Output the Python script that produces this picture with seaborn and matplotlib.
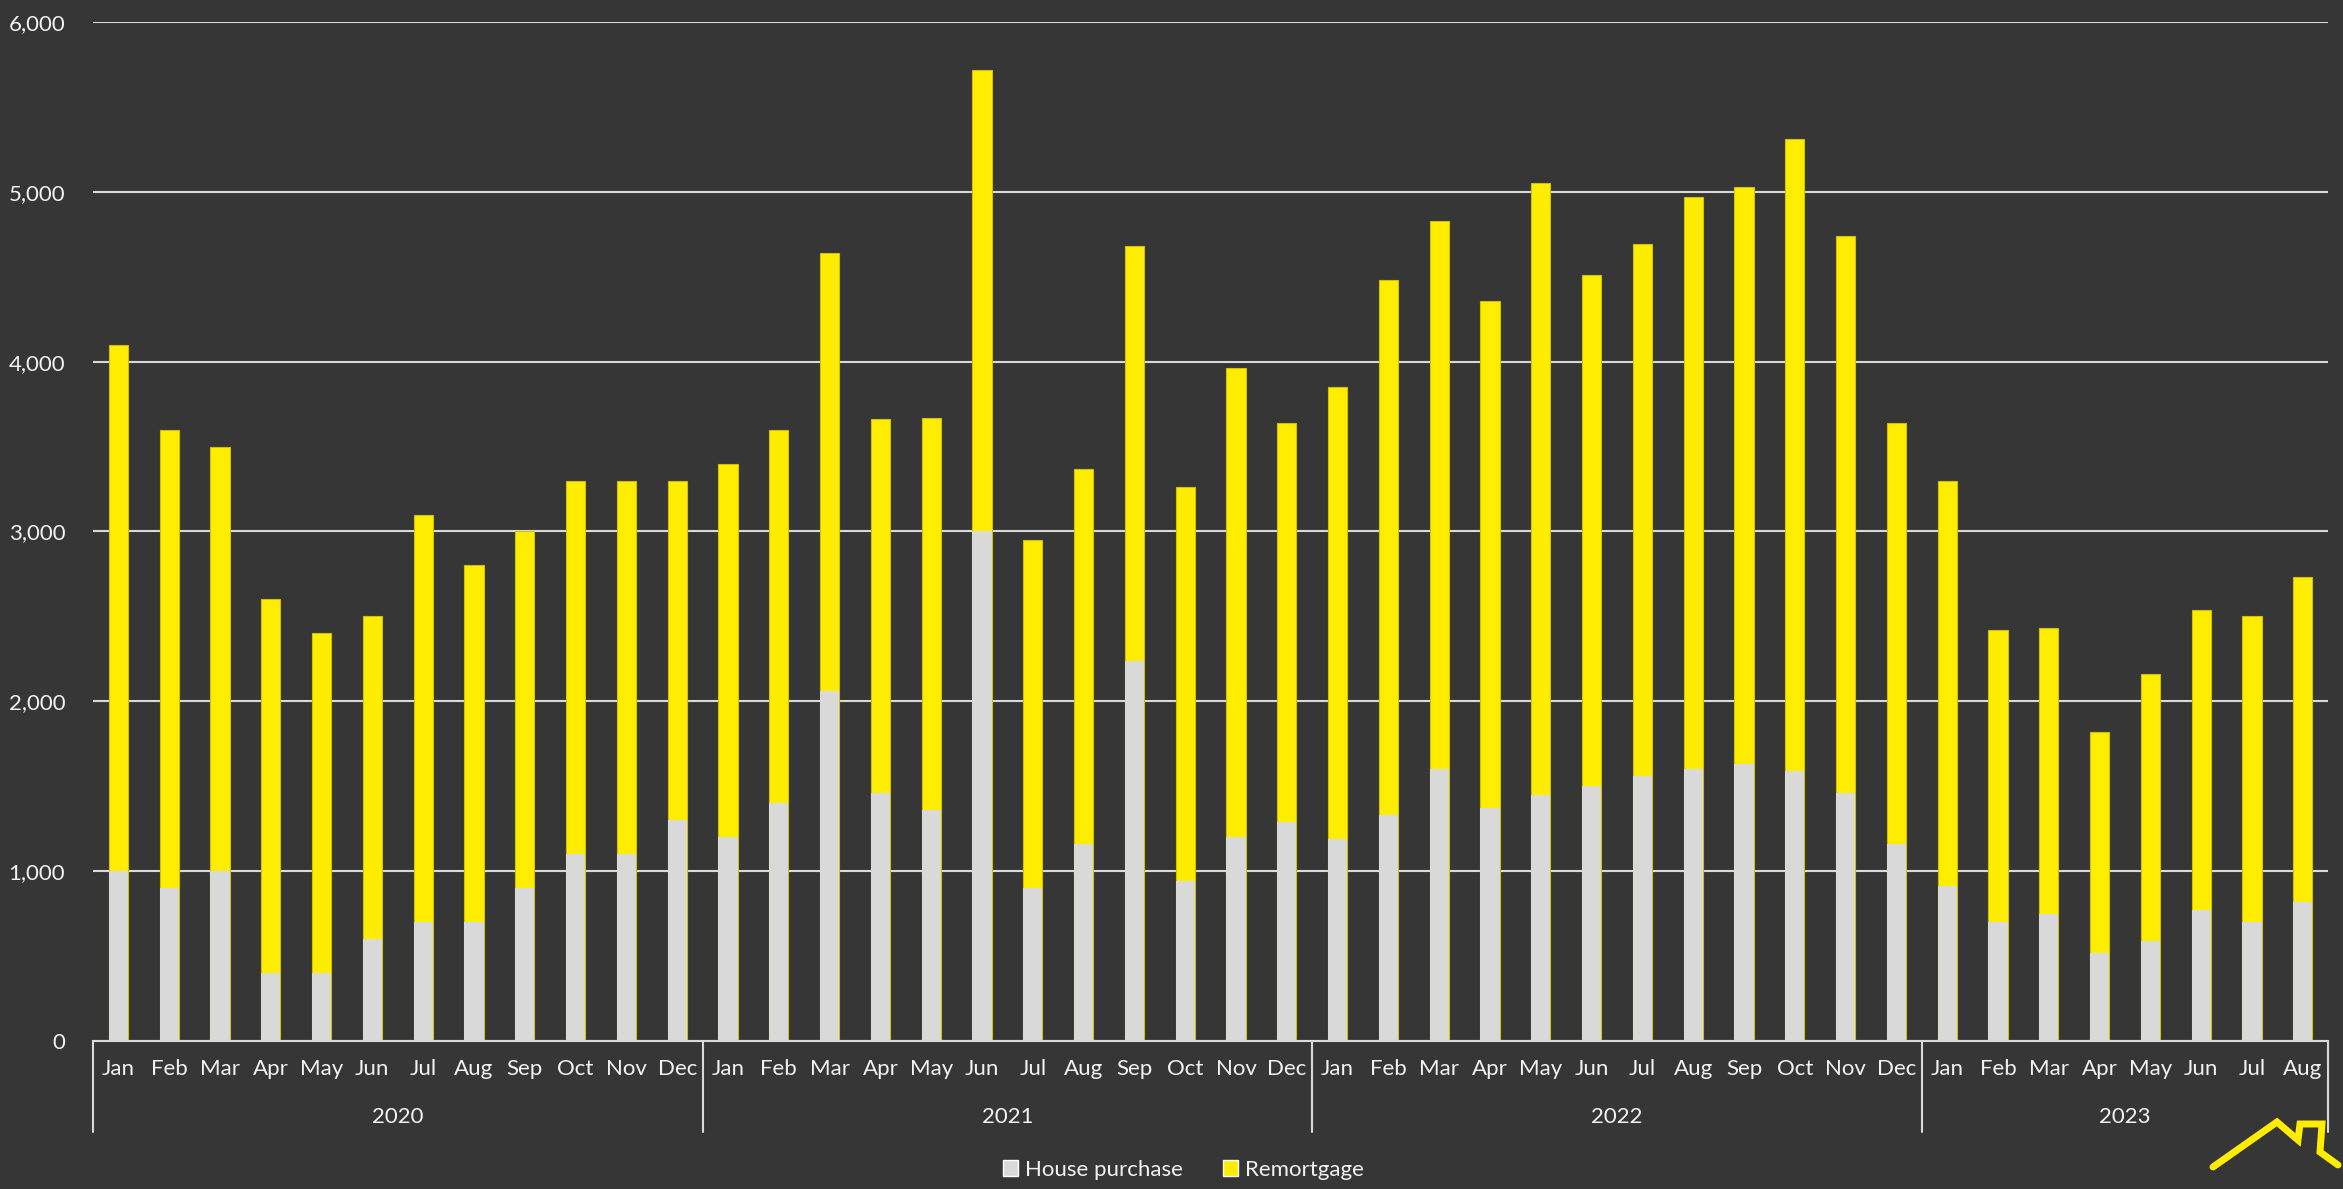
#
# Monthly mortgage volumes, house purchase vs remortgage, stacked by month.
#
import numpy as np
import pandas as pd
import matplotlib
matplotlib.use("Agg")
import matplotlib.pyplot as plt
from matplotlib.patches import Patch
from matplotlib.lines import Line2D
from matplotlib.ticker import FuncFormatter
import matplotlib.transforms as mtransforms
import seaborn as sns

years = ["2020", "2021", "2022", "2023"]
months_per_year = [12, 12, 12, 8]
month_names = ["Jan", "Feb", "Mar", "Apr", "May", "Jun",
               "Jul", "Aug", "Sep", "Oct", "Nov", "Dec"]

house_purchase = [
    1000, 900, 1000, 400, 400, 600, 700, 700, 900, 1100, 1100, 1300,      # 2020
    1200, 1400, 2060, 1460, 1360, 3000, 900, 1160, 2240, 940, 1200, 1290,  # 2021
    1190, 1330, 1600, 1370, 1450, 1500, 1560, 1600, 1630, 1590, 1460, 1160,  # 2022
    910, 700, 750, 520, 590, 770, 700, 820,                               # 2023
]
remortgage = [
    3100, 2700, 2500, 2200, 2000, 1900, 2400, 2100, 2100, 2200, 2200, 2000,
    2200, 2200, 2580, 2200, 2310, 2720, 2050, 2210, 2440, 2320, 2760, 2350,
    2660, 3150, 3230, 2990, 3600, 3010, 3130, 3370, 3400, 3720, 3280, 2480,
    2390, 1720, 1680, 1300, 1570, 1770, 1800, 1910,
]

bg = "#363636"
yellow = "#FFED00"
grey = "#D9D9D9"
txt = "#F2F2F2"

sns.set_theme(style="dark", rc={"axes.facecolor": bg, "figure.facecolor": bg})
plt.rcParams['font.family'] = ['Lato', 'DejaVu Sans']

rows = []
for y, n in zip(years, months_per_year):
    for m in month_names[:n]:
        rows.append((y, m))
df = pd.DataFrame(rows, columns=["year", "month"])
df["key"] = df["year"] + "-" + df["month"]
df["house"] = house_purchase
df["remortgage"] = remortgage
df["total"] = df["house"] + df["remortgage"]

fig = plt.figure(figsize=(23.43, 11.89), dpi=100)
ax = fig.add_axes([0.0397, 0.1245, 0.954, 0.857])

sns.barplot(data=df, x="key", y="total", color=yellow, width=0.38, saturation=1,
            edgecolor="#CFC000", linewidth=0.8, ax=ax, zorder=3)
sns.barplot(data=df, x="key", y="house", color=grey, width=0.38, saturation=1,
            linewidth=0, ax=ax, zorder=4)

ax.set_xlim(-0.5, len(df) - 0.5)
ax.set_ylim(0, 6000)
ax.set_yticks(np.arange(0, 6001, 1000))
ax.yaxis.set_major_formatter(FuncFormatter(lambda v, p: f"{int(v):,}"))
ax.grid(axis="y", color=grey, linewidth=1.5, zorder=0)
ax.grid(axis="x", visible=False)
ax.set_xlabel("")
ax.set_ylabel("")
ax.set_xticks(range(len(df)))
ax.set_xticklabels(df["month"])
ax.tick_params(axis="both", length=0, labelsize=16, colors=txt)
ax.tick_params(axis="x", pad=13)
ax.tick_params(axis="y", pad=20)
for s in ["top", "right", "left"]:
    ax.spines[s].set_visible(False)
ax.spines["bottom"].set_color(grey)
ax.spines["bottom"].set_linewidth(1.5)
ax.spines["bottom"].set_zorder(5)

# second level of the category axis: year labels and separators
trans = mtransforms.blended_transform_factory(ax.transData, ax.transAxes)
start = 0
bounds = [-0.5]
for y, n in zip(years, months_per_year):
    ax.text(start + (n - 1) / 2, -0.0746, y, transform=trans, ha="center", va="center",
            fontsize=16, color=txt)
    start += n
    bounds.append(start - 0.5)
for b in bounds:
    ax.plot([b, b], [0, -0.0893], transform=trans, color=grey, linewidth=1.5, clip_on=False)

handles = [Patch(facecolor=grey, label="House purchase"),
           Patch(facecolor=yellow, label="Remortgage")]
fig.legend(handles=handles, loc="center", bbox_to_anchor=(0.505, 0.016), ncol=2,
           frameon=False, fontsize=16, labelcolor=txt, handlelength=0.7,
           handleheight=0.7, handletextpad=0.3, columnspacing=1.8)

# roof of the logo in the bottom-right corner
rx = np.array([2213, 2277, 2298, 2300, 2322, 2320, 2338]) / 2343
ry = 1 - np.array([1167, 1122, 1140, 1124, 1124, 1152, 1165]) / 1189
fig.add_artist(Line2D(rx, ry, color=yellow, linewidth=5, solid_joinstyle="miter"))

fig.savefig("out.png", dpi=100, facecolor=bg)
